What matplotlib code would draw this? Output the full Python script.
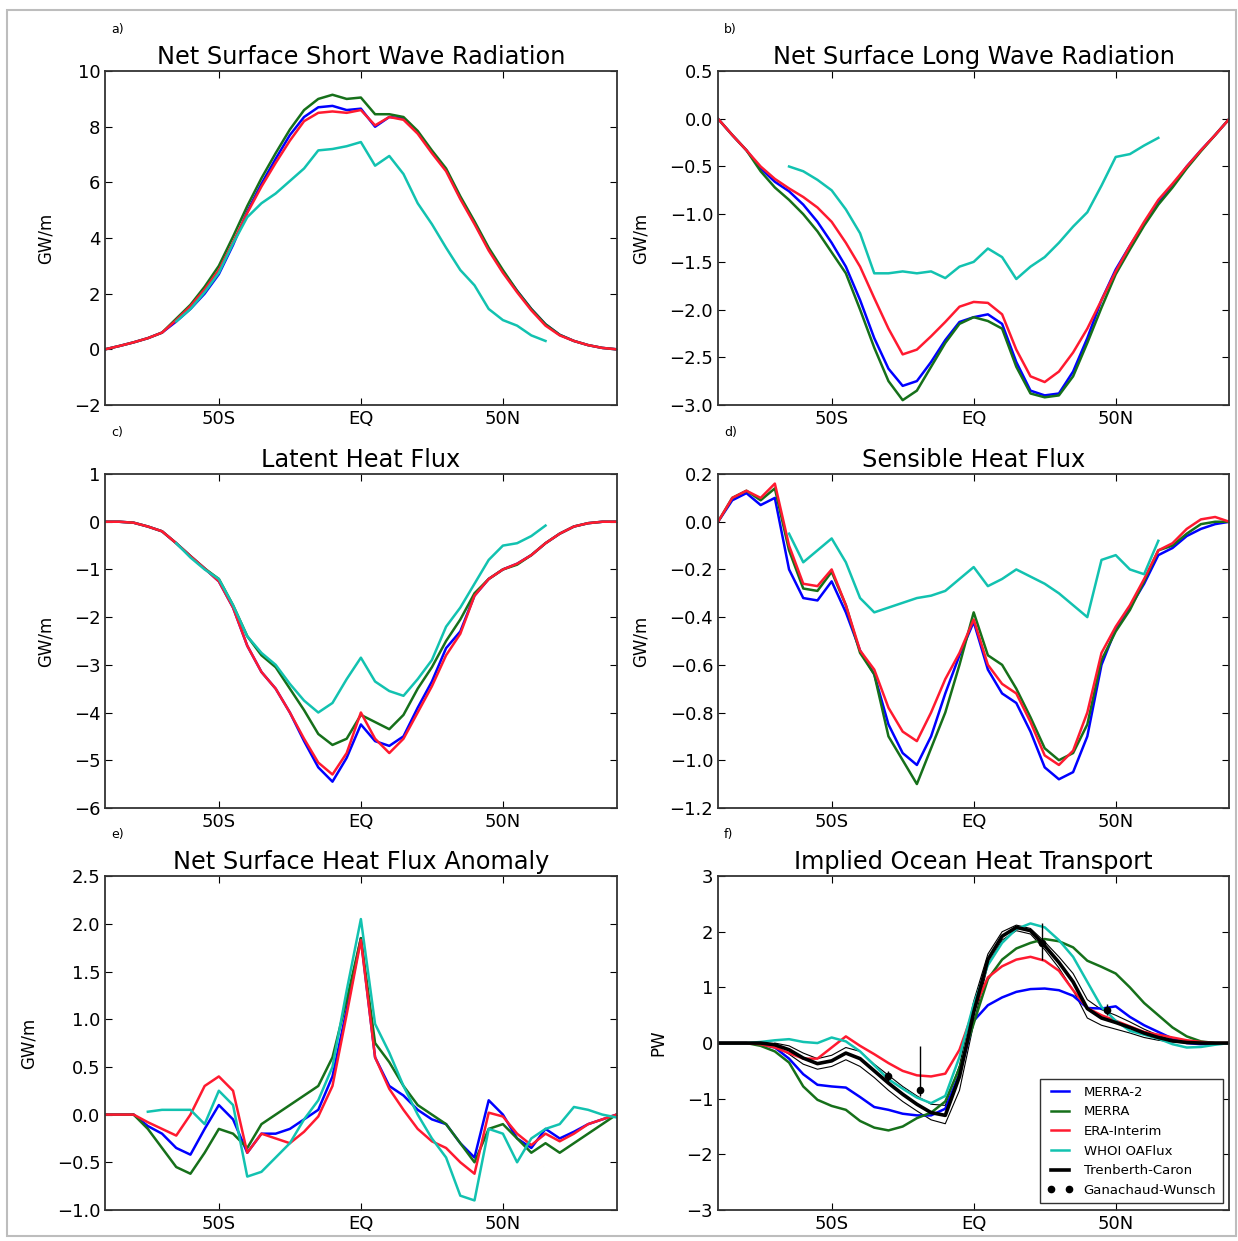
import numpy as np
import matplotlib
matplotlib.use("Agg")
import matplotlib.pyplot as plt
from matplotlib.patches import Rectangle

nan = np.nan

# zonal integrals on a 5 degree latitude grid, 90S..90N
lat = np.arange(-90, 91, 5)

# a) net surface short wave radiation (GW/m)
sw_merra2 = [0.0, 0.12, 0.25, 0.4, 0.6, 1.0, 1.45, 2.0, 2.7, 3.75, 4.95, 5.95, 6.85, 7.7, 8.35, 8.7, 8.75, 8.6, 8.65,
             8.0, 8.35, 8.3, 7.8, 7.1, 6.45, 5.45, 4.55, 3.6, 2.8, 2.1, 1.45, 0.9, 0.52, 0.3, 0.15, 0.05, 0.0]
sw_merra = [0.0, 0.12, 0.25, 0.4, 0.6, 1.1, 1.6, 2.25, 3.0, 4.05, 5.15, 6.15, 7.05, 7.9, 8.6, 9.0, 9.15, 9.0, 9.05,
            8.45, 8.45, 8.35, 7.85, 7.15, 6.5, 5.5, 4.6, 3.65, 2.85, 2.1, 1.45, 0.9, 0.52, 0.3, 0.15, 0.05, 0.0]
sw_erai = [0.0, 0.12, 0.25, 0.4, 0.6, 1.05, 1.55, 2.15, 2.85, 3.85, 4.9, 5.85, 6.7, 7.5, 8.2, 8.5, 8.55, 8.5, 8.6,
           8.05, 8.35, 8.25, 7.75, 7.05, 6.4, 5.4, 4.5, 3.55, 2.75, 2.05, 1.4, 0.85, 0.5, 0.3, 0.15, 0.05, 0.0]
sw_oaflux = [nan, nan, nan, nan, nan, 1.0, 1.45, 2.05, 2.75, 3.8, 4.75, 5.25, 5.6, 6.05, 6.5, 7.15, 7.2, 7.3, 7.45,
             6.6, 6.95, 6.3, 5.25, 4.5, 3.65, 2.85, 2.3, 1.45, 1.05, 0.85, 0.5, 0.3, nan, nan, nan, nan, nan]

# b) net surface long wave radiation (GW/m)
lw_merra2 = [0.0, -0.17, -0.33, -0.52, -0.66, -0.76, -0.9, -1.08, -1.3, -1.55, -1.9, -2.3, -2.62, -2.8, -2.75,
             -2.55, -2.32, -2.13, -2.08, -2.05, -2.15, -2.55, -2.85, -2.9, -2.88, -2.65, -2.3, -1.9, -1.58, -1.33,
             -1.1, -0.88, -0.7, -0.5, -0.33, -0.17, 0.0]
lw_merra = [0.0, -0.17, -0.33, -0.55, -0.72, -0.85, -1.0, -1.18, -1.4, -1.62, -2.0, -2.4, -2.75, -2.95, -2.85,
            -2.6, -2.35, -2.15, -2.08, -2.12, -2.2, -2.6, -2.88, -2.92, -2.9, -2.7, -2.35, -1.98, -1.63, -1.37,
            -1.12, -0.9, -0.72, -0.52, -0.34, -0.17, 0.0]
lw_erai = [0.0, -0.17, -0.33, -0.5, -0.63, -0.73, -0.82, -0.93, -1.08, -1.3, -1.55, -1.88, -2.2, -2.47, -2.42,
           -2.28, -2.13, -1.97, -1.92, -1.93, -2.05, -2.42, -2.7, -2.76, -2.65, -2.45, -2.2, -1.9, -1.6, -1.33,
           -1.08, -0.85, -0.68, -0.5, -0.33, -0.17, 0.0]
lw_oaflux = [nan, nan, nan, nan, nan, -0.5, -0.55, -0.64, -0.75, -0.95, -1.2, -1.62, -1.62, -1.6, -1.62, -1.6,
             -1.67, -1.55, -1.5, -1.36, -1.45, -1.68, -1.55, -1.45, -1.3, -1.13, -0.98, -0.7, -0.4, -0.37, -0.28,
             -0.2, nan, nan, nan, nan, nan]

# c) latent heat flux (GW/m)
lh_merra2 = [0.0, 0.0, -0.02, -0.1, -0.2, -0.45, -0.72, -0.98, -1.25, -1.8, -2.6, -3.15, -3.5, -4.0, -4.6, -5.15,
             -5.45, -4.95, -4.25, -4.6, -4.7, -4.5, -3.9, -3.35, -2.65, -2.3, -1.55, -1.2, -1.0, -0.88, -0.7, -0.45,
             -0.25, -0.1, -0.03, 0.0, 0.0]
lh_merra = [0.0, 0.0, -0.02, -0.1, -0.2, -0.45, -0.72, -0.98, -1.2, -1.75, -2.4, -2.8, -3.05, -3.5, -3.95, -4.45,
            -4.68, -4.55, -4.05, -4.2, -4.35, -4.05, -3.5, -3.05, -2.5, -2.05, -1.5, -1.2, -1.0, -0.9, -0.7, -0.45,
            -0.25, -0.1, -0.03, 0.0, 0.0]
lh_erai = [0.0, 0.0, -0.02, -0.1, -0.2, -0.45, -0.72, -0.98, -1.25, -1.8, -2.6, -3.15, -3.5, -4.0, -4.55, -5.05,
           -5.3, -4.85, -4.0, -4.55, -4.85, -4.55, -4.0, -3.45, -2.8, -2.35, -1.55, -1.2, -1.0, -0.88, -0.7, -0.45,
           -0.25, -0.1, -0.03, 0.0, 0.0]
lh_oaflux = [nan, nan, nan, nan, nan, -0.45, -0.75, -1.0, -1.2, -1.75, -2.4, -2.75, -3.0, -3.4, -3.75, -4.0,
             -3.8, -3.3, -2.85, -3.35, -3.55, -3.65, -3.3, -2.9, -2.2, -1.8, -1.3, -0.8, -0.5, -0.45, -0.3, -0.08,
             nan, nan, nan, nan, nan]

# d) sensible heat flux (GW/m)
sh_merra2 = [0.0, 0.09, 0.12, 0.07, 0.1, -0.2, -0.32, -0.33, -0.25, -0.38, -0.54, -0.64, -0.85, -0.97, -1.02,
             -0.9, -0.72, -0.56, -0.42, -0.62, -0.72, -0.76, -0.88, -1.03, -1.08, -1.05, -0.9, -0.6, -0.45, -0.36,
             -0.26, -0.14, -0.11, -0.06, -0.03, -0.01, 0.0]
sh_merra = [0.0, 0.1, 0.13, 0.09, 0.14, -0.12, -0.28, -0.29, -0.21, -0.35, -0.55, -0.64, -0.9, -1.0, -1.1, -0.95,
            -0.8, -0.6, -0.38, -0.56, -0.6, -0.7, -0.82, -0.95, -1.0, -0.97, -0.85, -0.58, -0.46, -0.37, -0.25,
            -0.12, -0.1, -0.05, -0.01, 0.0, 0.0]
sh_erai = [0.0, 0.1, 0.13, 0.1, 0.16, -0.1, -0.26, -0.27, -0.2, -0.35, -0.54, -0.62, -0.78, -0.88, -0.92, -0.8,
           -0.66, -0.55, -0.41, -0.6, -0.68, -0.72, -0.84, -0.98, -1.02, -0.96, -0.8, -0.55, -0.44, -0.35, -0.24,
           -0.12, -0.09, -0.03, 0.01, 0.02, 0.0]
sh_oaflux = [nan, nan, nan, nan, nan, -0.05, -0.17, -0.12, -0.07, -0.17, -0.32, -0.38, -0.36, -0.34, -0.32,
             -0.31, -0.29, -0.24, -0.19, -0.27, -0.24, -0.2, -0.23, -0.26, -0.3, -0.35, -0.4, -0.16, -0.14, -0.2,
             -0.22, -0.08, nan, nan, nan, nan, nan]

# e) net surface heat flux anomaly (GW/m)
nf_merra2 = [0.0, 0.0, 0.0, -0.12, -0.2, -0.35, -0.42, -0.15, 0.1, -0.05, -0.4, -0.2, -0.2, -0.15, -0.05, 0.05,
             0.4, 1.1, 1.85, 0.6, 0.3, 0.2, 0.05, -0.05, -0.1, -0.3, -0.45, 0.15, 0.0, -0.25, -0.35, -0.15, -0.25,
             -0.18, -0.1, -0.05, 0.0]
nf_merra = [0.0, 0.0, 0.0, -0.15, -0.35, -0.55, -0.62, -0.4, -0.15, -0.2, -0.35, -0.1, 0.0, 0.1, 0.2, 0.3, 0.6,
            1.2, 1.85, 0.75, 0.55, 0.3, 0.1, 0.0, -0.1, -0.3, -0.5, -0.15, -0.1, -0.25, -0.4, -0.3, -0.4, -0.3,
            -0.2, -0.1, 0.0]
nf_erai = [0.0, 0.0, 0.0, -0.08, -0.15, -0.22, 0.0, 0.3, 0.4, 0.25, -0.4, -0.2, -0.25, -0.3, -0.18, -0.02, 0.3,
           1.05, 1.83, 0.6, 0.27, 0.05, -0.15, -0.28, -0.35, -0.5, -0.62, 0.02, -0.02, -0.2, -0.32, -0.2, -0.28,
           -0.2, -0.1, -0.05, 0.0]
nf_oaflux = [nan, nan, nan, 0.03, 0.05, 0.05, 0.05, -0.1, 0.25, 0.1, -0.65, -0.6, -0.45, -0.3, -0.05, 0.15, 0.5,
             1.3, 2.05, 0.95, 0.65, 0.3, 0.0, -0.25, -0.45, -0.85, -0.9, -0.15, -0.2, -0.5, -0.25, -0.15, -0.1,
             0.08, 0.05, 0.0, -0.03]

# f) implied ocean heat transport (PW)
oht_merra2 = [0.0, 0.0, 0.0, -0.02, -0.08, -0.28, -0.56, -0.75, -0.78, -0.8, -0.97, -1.15, -1.2, -1.27, -1.3,
              -1.3, -1.18, -0.55, 0.4, 0.68, 0.82, 0.92, 0.97, 0.98, 0.95, 0.85, 0.63, 0.62, 0.66, 0.47, 0.32, 0.2,
              0.08, 0.0, -0.02, -0.01, 0.0]
oht_merra = [0.0, 0.0, 0.0, -0.05, -0.15, -0.35, -0.78, -1.02, -1.13, -1.2, -1.4, -1.52, -1.57, -1.5, -1.35,
             -1.25, -1.05, -0.45, 0.35, 1.15, 1.5, 1.7, 1.8, 1.87, 1.83, 1.72, 1.48, 1.37, 1.25, 1.0, 0.72, 0.5,
             0.28, 0.12, 0.03, 0.0, 0.0]
oht_erai = [0.0, 0.0, 0.0, -0.02, -0.08, -0.18, -0.28, -0.28, -0.08, 0.12, -0.05, -0.2, -0.36, -0.5, -0.58, -0.6,
            -0.55, -0.12, 0.6, 1.18, 1.38, 1.5, 1.55, 1.48, 1.3, 0.95, 0.63, 0.5, 0.4, 0.3, 0.2, 0.15, 0.1, 0.05,
            0.02, 0.0, 0.0]
oht_oaflux = [0.0, 0.0, 0.0, 0.02, 0.05, 0.07, 0.02, 0.0, 0.1, 0.03, -0.15, -0.4, -0.65, -0.82, -0.98, -1.08,
              -0.95, -0.25, 0.7, 1.4, 1.8, 2.05, 2.15, 2.08, 1.85, 1.55, 1.1, 0.65, 0.4, 0.22, 0.15, 0.08, -0.02,
              -0.08, -0.07, -0.03, 0.0]
oht_tc = [0.0, 0.0, 0.0, 0.0, -0.03, -0.12, -0.27, -0.37, -0.32, -0.18, -0.28, -0.5, -0.72, -0.92, -1.1, -1.25,
          -1.3, -0.6, 0.55, 1.5, 1.92, 2.08, 2.02, 1.75, 1.45, 1.1, 0.62, 0.45, 0.37, 0.28, 0.18, 0.1, 0.04, 0.01,
          0.0, 0.0, 0.0]
oht_tc_hi = [nan, nan, nan, nan, 0.0, -0.05, -0.18, -0.28, -0.22, -0.08, -0.15, -0.38, -0.58, -0.78, -0.95, -1.1,
             -1.12, -0.4, 0.75, 1.6, 2.0, 2.12, 2.06, 1.82, 1.55, 1.25, 0.78, 0.6, 0.5, 0.38, 0.25, 0.14, 0.05,
             0.01, nan, nan, nan]
oht_tc_lo = [nan, nan, nan, nan, -0.05, -0.2, -0.38, -0.47, -0.42, -0.3, -0.42, -0.62, -0.85, -1.05, -1.22,
             -1.38, -1.45, -0.85, 0.35, 1.4, 1.85, 2.02, 1.96, 1.68, 1.35, 0.95, 0.45, 0.32, 0.25, 0.18, 0.1, 0.05,
             0.02, 0.0, nan, nan, nan]

# hydrographic section estimates
gw_lat = [-30, -19, 24, 47]
gw_val = [-0.6, -0.85, 1.8, 0.6]
gw_err_lo = [0.1, 0.1, 0.3, 0.1]
gw_err_hi = [0.1, 0.8, 0.35, 0.1]

names = ["MERRA-2", "MERRA", "ERA-Interim", "WHOI OAFlux", "Trenberth-Caron", "Ganachaud-Wunsch"]
colors = ["#0000ff", "#16701a", "#ff1a30", "#12c2b0", "k"]

plt.rcParams.update({
    "font.family": "DejaVu Sans",
    "font.size": 13,
    "xtick.direction": "in",
    "ytick.direction": "in",
    "xtick.top": True,
    "ytick.right": True,
    "xtick.major.size": 5,
    "ytick.major.size": 5,
    "axes.linewidth": 1.3,
    "axes.edgecolor": "#333333",
})

fig = plt.figure(figsize=(12.38, 12.41), dpi=100)

# thin frame round the whole figure
fig.patches.append(Rectangle((0.006, 0.004), 0.992, 0.988, transform=fig.transFigure,
                             fill=False, edgecolor="#bdbdbd", lw=1.5))

left = [0.085, 0.580]
bottom = [0.6737, 0.349, 0.025]
w, h = 0.413, 0.269

panels = [
    ("a)", "Net Surface Short Wave Radiation", [sw_merra2, sw_merra, sw_erai, sw_oaflux], (-2, 10), [-2, 0, 2, 4, 6, 8, 10], "%d", "GW/m"),
    ("b)", "Net Surface Long Wave Radiation", [lw_merra2, lw_merra, lw_erai, lw_oaflux], (-3, 0.5), [-3.0, -2.5, -2.0, -1.5, -1.0, -0.5, 0.0, 0.5], "%.1f", "GW/m"),
    ("c)", "Latent Heat Flux", [lh_merra2, lh_merra, lh_erai, lh_oaflux], (-6, 1), [-6, -5, -4, -3, -2, -1, 0, 1], "%d", "GW/m"),
    ("d)", "Sensible Heat Flux", [sh_merra2, sh_merra, sh_erai, sh_oaflux], (-1.2, 0.2), [-1.2, -1.0, -0.8, -0.6, -0.4, -0.2, 0.0, 0.2], "%.1f", "GW/m"),
    ("e)", "Net Surface Heat Flux Anomaly", [nf_merra2, nf_merra, nf_erai, nf_oaflux], (-1, 2.5), [-1.0, -0.5, 0.0, 0.5, 1.0, 1.5, 2.0, 2.5], "%.1f", "GW/m"),
    ("f)", "Implied Ocean Heat Transport", [oht_merra2, oht_merra, oht_erai, oht_oaflux, oht_tc], (-3, 3), [-3, -2, -1, 0, 1, 2, 3], "%d", "PW"),
]

for k, (tag, title, series, ylim, yticks, fmt, unit) in enumerate(panels):
    row, col = divmod(k, 2)
    ax = fig.add_axes([left[col], bottom[row], w, h])
    if tag == "f)":
        ax.plot(lat, oht_tc_hi, color="k", lw=0.8)
        ax.plot(lat, oht_tc_lo, color="k", lw=0.8)
    for i, ys in enumerate(series):
        lw = 2.6 if i == 4 else 1.8
        ax.plot(lat, ys, color=colors[i], lw=lw, label=names[i])
    if tag == "f)":
        ax.errorbar(gw_lat, gw_val, yerr=[gw_err_lo, gw_err_hi], fmt="none", ecolor="k", elinewidth=1.0)
        ax.plot(gw_lat, gw_val, "k.", ms=9, label=names[5])
        leg = ax.legend(loc="lower right", fontsize=9.5, numpoints=2, handlelength=2.0,
                        labelspacing=0.5, borderpad=0.5, fancybox=False, framealpha=1)
        leg.get_frame().set_edgecolor("#333333")
    ax.set_xlim(-90, 90)
    ax.set_ylim(*ylim)
    ax.set_xticks([-50, 0, 50])
    ax.set_xticklabels(["50S", "EQ", "50N"])
    ax.set_yticks(yticks)
    ax.set_yticklabels([(fmt % v).replace("-", "\u2212") for v in yticks])
    ax.set_ylabel(unit, fontsize=12, labelpad=14)
    ax.set_title(title, fontsize=17.3, pad=5)
    ax.text(0.012, 1.125, tag, transform=ax.transAxes, fontsize=9, ha="left", va="center")

plt.savefig("out.png", dpi=100)
